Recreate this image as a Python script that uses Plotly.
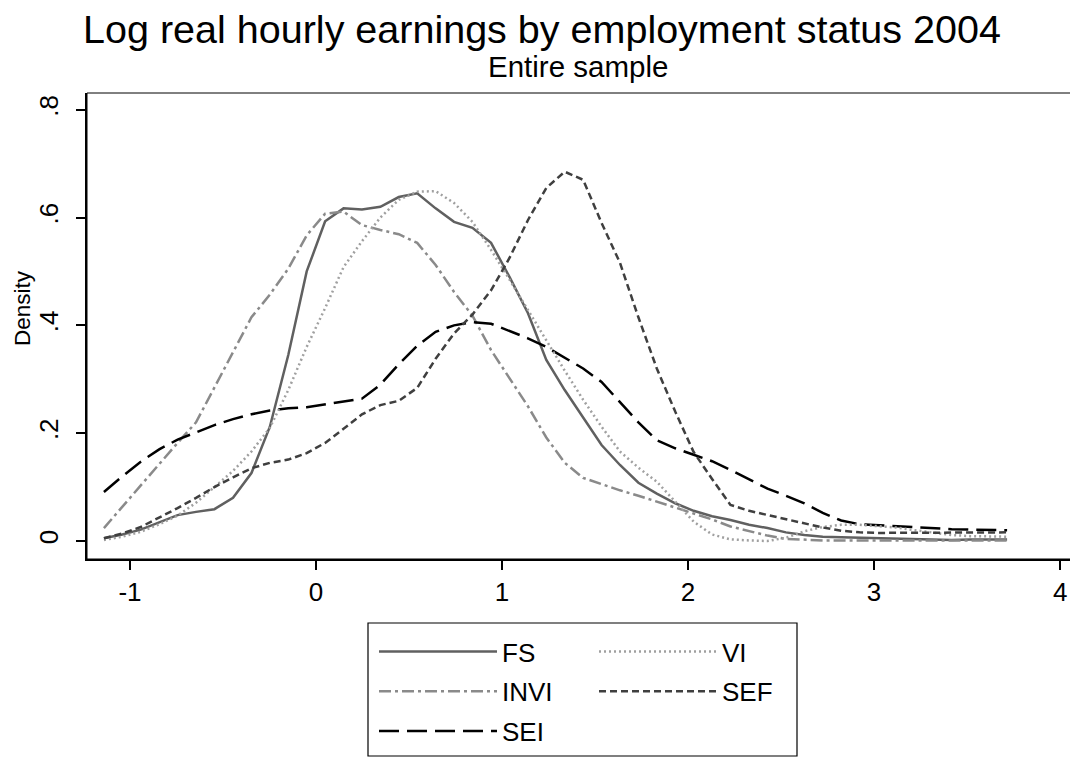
import plotly.graph_objects as go

# evaluation grid (log real hourly earnings)
x_grid = [-1.140, -1.041, -0.942, -0.843, -0.744, -0.645, -0.546, -0.446, -0.347, -0.248,
          -0.149, -0.050, 0.049, 0.148, 0.247, 0.346, 0.445, 0.544, 0.643, 0.742,
          0.841, 0.941, 1.040, 1.139, 1.238, 1.337, 1.436, 1.535, 1.634, 1.733,
          1.832, 1.931, 2.030, 2.129, 2.228, 2.328, 2.427, 2.526, 2.625, 2.724,
          2.823, 2.922, 3.021, 3.120, 3.219, 3.318, 3.417, 3.516, 3.615, 3.715]

fs = [0.005, 0.012, 0.021, 0.035, 0.048, 0.054, 0.059, 0.080, 0.126, 0.212,
      0.345, 0.500, 0.593, 0.617, 0.615, 0.620, 0.638, 0.645, 0.617, 0.592,
      0.581, 0.553, 0.490, 0.423, 0.336, 0.280, 0.228, 0.178, 0.141, 0.108,
      0.088, 0.070, 0.056, 0.046, 0.039, 0.030, 0.024, 0.016, 0.011, 0.008,
      0.007, 0.006, 0.005, 0.004, 0.003, 0.002, 0.002, 0.003, 0.003, 0.003]

invi = [0.024, 0.064, 0.103, 0.143, 0.182, 0.220, 0.285, 0.350, 0.415, 0.457,
        0.505, 0.567, 0.607, 0.611, 0.586, 0.577, 0.569, 0.553, 0.512, 0.462,
        0.418, 0.354, 0.302, 0.250, 0.192, 0.145, 0.117, 0.105, 0.094, 0.084,
        0.073, 0.063, 0.052, 0.040, 0.027, 0.018, 0.010, 0.004, 0.002, 0.001,
        0.001, 0.001, 0.001, 0.001, 0.001, 0.001, 0.001, 0.001, 0.001, 0.001]

vi = [0.002, 0.008, 0.017, 0.031, 0.047, 0.071, 0.100, 0.130, 0.166, 0.210,
      0.280, 0.360, 0.432, 0.508, 0.556, 0.600, 0.633, 0.648, 0.649, 0.627,
      0.592, 0.540, 0.485, 0.428, 0.372, 0.316, 0.262, 0.212, 0.166, 0.136,
      0.110, 0.072, 0.036, 0.012, 0.003, 0.001, 0.000, 0.006, 0.018, 0.026,
      0.030, 0.030, 0.028, 0.025, 0.020, 0.015, 0.011, 0.009, 0.008, 0.008]

sef = [0.005, 0.014, 0.026, 0.043, 0.061, 0.080, 0.100, 0.118, 0.135, 0.145,
       0.151, 0.163, 0.182, 0.208, 0.235, 0.252, 0.260, 0.284, 0.338, 0.385,
       0.420, 0.465, 0.525, 0.595, 0.655, 0.685, 0.670, 0.590, 0.516, 0.415,
       0.320, 0.240, 0.165, 0.115, 0.067, 0.056, 0.048, 0.040, 0.033, 0.025,
       0.019, 0.016, 0.015, 0.015, 0.015, 0.015, 0.016, 0.016, 0.016, 0.016]

sei = [0.091, 0.120, 0.147, 0.170, 0.188, 0.202, 0.215, 0.226, 0.235, 0.242,
       0.246, 0.248, 0.253, 0.258, 0.264, 0.290, 0.328, 0.362, 0.388, 0.400,
       0.406, 0.403, 0.390, 0.376, 0.360, 0.340, 0.320, 0.295, 0.258, 0.220,
       0.187, 0.172, 0.160, 0.148, 0.132, 0.115, 0.097, 0.084, 0.070, 0.052,
       0.038, 0.031, 0.029, 0.027, 0.025, 0.023, 0.022, 0.021, 0.021, 0.020]

x_ticks = [-1, 0, 1, 2, 3, 4]
x_ticktext = ["-1", "0", "1", "2", "3", "4"]
y_ticks = [0, 0.2, 0.4, 0.6, 0.8]
y_ticktext = ["0", ".2", ".4", ".6", ".8"]

FONT = "Liberation Sans, Arial, sans-serif"

series = [
    ("FS", fs, "#606060", "solid", "legend", "g1"),
    ("INVI", invi, "#8a8a8a", "12px,4px,3px,4px", "legend", "g2"),
    ("SEI", sei, "#000000", "20px,8px", "legend", "g3"),
    ("VI", vi, "#a0a0a0", "2px,3px", "legend2", "g4"),
    ("SEF", sef, "#3f3f3f", "7px,4px", "legend2", "g5"),
]

fig = go.Figure()
for name, ys, color, dash, leg, grp in series:
    fig.add_trace(go.Scatter(
        x=x_grid, y=ys, mode="lines", name=name,
        line=dict(color=color, width=2.5, dash=dash),
        legend=leg, legendgroup=grp,
    ))

# the page body adds an 8px offset, so the figure is 8px smaller each way
W, H = 1070, 757
ML, MR, MT, MB = 79, 3, 85, 206
PW, PH = W - ML - MR, H - MT - MB


def px_to_paper_y(py):
    return (MT + PH - py) / PH


legend_common = dict(yref="container", xref="container", yanchor="top", xanchor="left",
                     orientation="v", font=dict(size=26, family=FONT),
                     itemwidth=118, tracegroupgap=3, bgcolor="rgba(0,0,0,0)",
                     borderwidth=0)

fig.update_layout(
    width=W, height=H,
    margin=dict(l=ML, r=MR, t=MT, b=MB, autoexpand=False),
    paper_bgcolor="white", plot_bgcolor="white",
    font=dict(family=FONT, color="black"),
    title=dict(text="Log real hourly earnings by employment status 2004",
               x=534 / W, xanchor="center", xref="container",
               y=1 - 21 / H, yanchor="middle", yref="container",
               font=dict(size=39.5, color="black", family=FONT)),
    xaxis=dict(range=[-1.231, 4.08], tickvals=x_ticks, ticktext=x_ticktext,
               ticks="outside", ticklen=9, tickwidth=1.5, tickcolor="black",
               showline=True, linecolor="black", linewidth=2,
               showgrid=False, zeroline=False,
               tickfont=dict(size=26, family=FONT)),
    yaxis=dict(range=[-0.0334, 0.831], tickvals=y_ticks, ticktext=y_ticktext,
               ticks="outside", ticklen=9, tickwidth=1.5, tickcolor="black",
               showline=True, linecolor="black", linewidth=2,
               showgrid=False, zeroline=False, tickangle=-90,
               ticklabelstandoff=8,
               tickfont=dict(size=26, family=FONT)),
    legend=dict(x=366 / W, y=1 - 620 / H, **legend_common),
    legend2=dict(x=586 / W, y=1 - 620 / H, **legend_common),
    showlegend=True,
    annotations=[
        dict(text="Entire sample", xref="paper", yref="paper",
             x=(570 - ML) / PW, y=1 + 27 / PH, xanchor="center", yanchor="middle",
             showarrow=False, font=dict(size=29.5, family=FONT)),
        dict(text="Density", xref="paper", yref="paper",
             x=(14 - ML) / PW, y=px_to_paper_y(300), xanchor="center", yanchor="middle",
             textangle=-90, showarrow=False, font=dict(size=22.5, family=FONT)),
    ],
    shapes=[
        dict(type="rect", xref="paper", yref="paper", x0=0, x1=1, y0=0, y1=1,
             line=dict(color="black", width=1)),
        dict(type="rect", xref="paper", yref="paper",
             x0=(360 - ML) / PW, x1=(789 - ML) / PW,
             y0=px_to_paper_y(615), y1=px_to_paper_y(748),
             line=dict(color="black", width=1.2)),
    ],
)

fig.write_html("out.html")
